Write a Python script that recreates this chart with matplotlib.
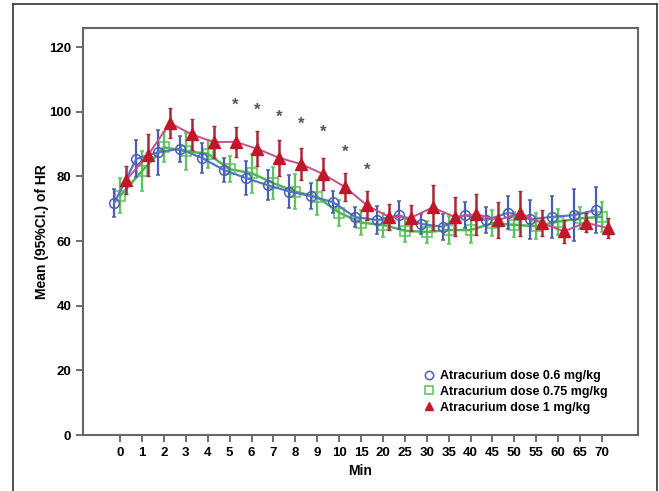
import matplotlib
matplotlib.use("Agg")
import matplotlib.pyplot as plt
from matplotlib.lines import Line2D
import numpy as np

plt.rcParams['font.family'] = ['Liberation Sans', 'DejaVu Sans']

tick_labels = ['0', '1', '2', '3', '4', '5', '6', '7', '8', '9', '10',
               '15', '20', '25', '30', '35', '40', '45', '50', '55', '60', '65', '70']

blue_mean = [71.8, 85.4, 87.5, 88.5, 85.7, 82.0, 79.5, 77.3, 75.3, 73.9, 72.0, 67.4,
             66.5, 68.0, 65.3, 64.4, 68.0, 66.5, 68.8, 66.7, 67.5, 68.0, 69.6]
blue_ci = [4.3, 5.7, 7.0, 4.0, 4.5, 3.6, 5.2, 4.6, 5.2, 3.9, 3.4, 3.0,
           4.4, 4.4, 3.0, 4.0, 4.0, 4.0, 5.0, 6.0, 6.5, 8.0, 7.0]

green_mean = [74.0, 81.7, 89.0, 87.8, 87.0, 82.2, 81.0, 77.9, 75.3, 73.6, 68.8, 65.7,
              65.0, 63.2, 62.8, 63.4, 63.4, 65.5, 65.0, 64.6, 66.0, 67.0, 67.5]
green_ci = [5.4, 6.2, 4.6, 5.7, 4.4, 4.0, 6.0, 5.0, 5.4, 5.4, 4.0, 3.9,
            3.6, 3.6, 3.4, 4.4, 4.0, 4.0, 3.9, 4.0, 4.0, 3.4, 4.6]

red_mean = [78.9, 86.6, 96.5, 93.0, 90.6, 90.7, 88.5, 85.7, 83.8, 80.7, 76.7, 71.0,
            67.5, 67.2, 70.4, 67.5, 68.3, 66.5, 68.6, 65.5, 63.0, 65.7, 64.0]
red_ci = [4.2, 6.4, 4.7, 4.9, 5.0, 4.6, 5.4, 5.7, 5.0, 4.9, 4.4, 4.4,
          4.1, 4.1, 7.0, 6.0, 6.4, 5.7, 7.0, 4.0, 3.6, 3.0, 3.1]

star_idx = [5, 6, 7, 8, 9, 10, 11]
star_y = [101.9, 100.3, 98.4, 96.1, 93.5, 87.6, 81.8]

labels = ['Atracurium dose 0.6 mg/kg', 'Atracurium dose 0.75 mg/kg', 'Atracurium dose 1 mg/kg']

fig = plt.figure(figsize=(6.59, 4.91), dpi=100)
ax = fig.add_axes([83/659, 1-435/491, (638-83)/659, (435-28)/491])

x = np.arange(len(tick_labels))
off = 0.27

ax.errorbar(x - off, blue_mean, yerr=blue_ci, color='#5a73c8', ecolor='#4a5fae',
            elinewidth=1.6, capsize=1.5, capthick=1, lw=1.6, marker='o', ms=7,
            mfc='none', mec='#4a5fb8', mew=1.1, label=labels[0], zorder=3)
ax.errorbar(x, green_mean, yerr=green_ci, color='#4cb84c', ecolor='#5cc45c',
            elinewidth=1.6, capsize=1.5, capthick=1, lw=1.8, marker='s', ms=7,
            mfc='none', mec='#5cbf5c', mew=1.1, label=labels[1], zorder=2)
ax.errorbar(x + off, red_mean, yerr=red_ci, color='#c5508a', ecolor='#a8283a',
            elinewidth=1.8, capsize=1.5, capthick=1, lw=1.4, marker='^', ms=8,
            mfc='#c01828', mec='#c01828', label=labels[2], zorder=4)

for i, yv in zip(star_idx, star_y):
    ax.text(i + off, yv, '*', ha='center', va='center', fontsize=12,
            fontweight='bold', color='#555555')

ax.set_xlim(-1.7, 23.65)
ax.set_ylim(0, 125.9)
ax.set_xticks(x)
ax.set_xticklabels(tick_labels)
ax.set_yticks([0, 20, 40, 60, 80, 100, 120])
ax.tick_params(direction='out', length=5, width=1.2, color='#555555',
               labelsize=9.5)
for lab in ax.get_xticklabels() + ax.get_yticklabels():
    lab.set_fontweight('bold')
for s in ax.spines.values():
    s.set_color('#666666')
    s.set_linewidth(1.5)

ax.set_xlabel('Min', fontsize=10, fontweight='bold', labelpad=4)
ax.set_ylabel('Mean (95%CI.) of HR', fontsize=10, fontweight='bold', labelpad=0)

handles = [
    Line2D([], [], ls='none', marker='o', ms=6, mfc='none', mec='#4a5fb8', mew=1.1),
    Line2D([], [], ls='none', marker='s', ms=6, mfc='none', mec='#5cbf5c', mew=1.1),
    Line2D([], [], ls='none', marker='^', ms=6, mfc='#c01828', mec='#c01828'),
]
leg = ax.legend(handles, labels, loc='lower right', bbox_to_anchor=(0.966, 0.025),
                frameon=False, prop={'weight': 'bold', 'size': 9},
                handlelength=0.8, handletextpad=0.5, labelspacing=0.3)

# outer figure frame
fig.add_artist(Line2D([13/659, 13/659], [0, 1-4/491], color='#333333', lw=1.2,
                      transform=fig.transFigure))
fig.add_artist(Line2D([13/659, 657/659], [1-4/491, 1-4/491], color='#333333', lw=1.2,
                      transform=fig.transFigure))
fig.add_artist(Line2D([657/659, 657/659], [0, 1-4/491], color='#333333', lw=1.2,
                      transform=fig.transFigure))

fig.savefig('out.png', dpi=100)
